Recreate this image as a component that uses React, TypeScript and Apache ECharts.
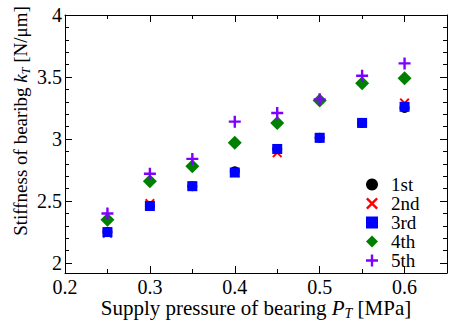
import React, { useEffect, useRef } from "react";
import * as echarts from "echarts";

const pressures = [0.25, 0.3, 0.35, 0.4, 0.45, 0.5, 0.55, 0.6];
const seriesNames = ["1st", "2nd", "3rd", "4th", "5th"];
const run1 = [2.25, 2.46, 2.62, 2.74, 2.92, 3.01, 3.13, 3.25];
const run2 = [2.24, 2.48, 2.62, 2.73, 2.89, 3.01, 3.13, 3.29];
const run3 = [2.25, 2.46, 2.62, 2.73, 2.92, 3.01, 3.13, 3.26];
const run4 = [2.35, 2.66, 2.78, 2.97, 3.13, 3.31, 3.45, 3.49];
const run5 = [2.40, 2.72, 2.84, 3.14, 3.21, 3.32, 3.51, 3.61];
const runs = [run1, run2, run3, run4, run5];

const colors = ["#000000", "#ff0000", "#0000ff", "#008000", "#8000ff"];
const CROSS = "path://M0,1.4L1.4,0L5,3.6L8.6,0L10,1.4L6.4,5L10,8.6L8.6,10L5,6.4L1.4,10L0,8.6L3.6,5Z";
const PLUS = "path://M4,0H6V4H10V6H6V10H4V6H0V4H4Z";
const symbols = ["circle", CROSS, "rect", "diamond", PLUS];
const sizes = [10, 10, 10, 14, 12];

const FONT = "Liberation Serif";

export default function App() {
  const ref = useRef<HTMLDivElement>(null);
  useEffect(() => {
    document.body.style.margin = "0";
    if (!ref.current) return;
    const chart = echarts.init(ref.current, null, { renderer: "svg" });
    const xCommon = { type: "value", min: 0.2, max: 0.65, splitLine: { show: false } };
    const yCommon = { type: "value", min: 1.92, max: 4, splitLine: { show: false } };
    const line = { show: true, lineStyle: { color: "#000", width: 1 } };
    const noLine = { show: false };
    const label = { fontFamily: FONT, fontSize: 20, color: "#000" };
    const mkRich = (fs: number) => ({
      i: { fontFamily: FONT, fontSize: fs, fontStyle: "italic", lineHeight: fs + 4 },
      s: { fontFamily: FONT, fontSize: Math.round(fs * 0.65), fontStyle: "italic", verticalAlign: "bottom", lineHeight: fs + 4, padding: [Math.round(fs * 0.45), 0, 0, 0] },
    });
    const option = {
      animation: false,
      backgroundColor: "#fff",
      textStyle: { fontFamily: FONT },
      grid: { left: 65, right: 2, top: 15, bottom: 58, containLabel: false, outerBoundsMode: "none" },
      xAxis: [
        { ...xCommon, position: "bottom", minInterval: 0.1, maxInterval: 0.1, axisLine: line,
          axisTick: { inside: true, length: 7, lineStyle: { color: "#000" } },
          axisLabel: { ...label, margin: 4, showMaxLabel: false } },
        { ...xCommon, position: "bottom", minInterval: 0.05, maxInterval: 0.05, splitNumber: 9, axisLine: noLine,
          axisTick: { inside: true, length: 4, lineStyle: { color: "#000" } }, axisLabel: { show: false } },
        { ...xCommon, position: "top", minInterval: 0.1, maxInterval: 0.1, axisLine: line,
          axisTick: { inside: true, length: 7, lineStyle: { color: "#000" } }, axisLabel: { show: false } },
        { ...xCommon, position: "top", minInterval: 0.05, maxInterval: 0.05, splitNumber: 9, axisLine: noLine,
          axisTick: { inside: true, length: 4, lineStyle: { color: "#000" } }, axisLabel: { show: false } },
      ],
      yAxis: [
        { ...yCommon, position: "left", minInterval: 0.5, maxInterval: 0.5, splitNumber: 4, axisLine: line,
          axisTick: { inside: true, length: 7, lineStyle: { color: "#000" } },
          axisLabel: { ...label, margin: 3, showMinLabel: false } },
        { ...yCommon, position: "left", minInterval: 0.1, maxInterval: 0.1, splitNumber: 20, axisLine: noLine,
          axisTick: { inside: true, length: 4, lineStyle: { color: "#000" } }, axisLabel: { show: false } },
        { ...yCommon, position: "right", minInterval: 0.5, maxInterval: 0.5, splitNumber: 4, axisLine: line,
          axisTick: { inside: true, length: 7, lineStyle: { color: "#000" } }, axisLabel: { show: false } },
        { ...yCommon, position: "right", minInterval: 0.1, maxInterval: 0.1, splitNumber: 20, axisLine: noLine,
          axisTick: { inside: true, length: 4, lineStyle: { color: "#000" } }, axisLabel: { show: false } },
      ],
      legend: {
        orient: "vertical",
        left: 366,
        top: 175,
        padding: 0,
        itemWidth: 12,
        itemHeight: 12,
        itemGap: 0,
        data: seriesNames,
        textStyle: { fontFamily: FONT, fontSize: 19, color: "#000", lineHeight: 18.75, padding: [0, 0, 0, 8] },
      },
      graphic: [
        {
          type: "text",
          x: 256,
          y: 308,
          style: {
            text: "Supply pressure of bearing {i|P}{s|T} [MPa]",
            fontFamily: FONT,
            fontSize: 21,
            fill: "#000",
            align: "center",
            verticalAlign: "middle",
            rich: mkRich(21),
          },
        },
        {
          type: "text",
          x: 20,
          y: 121,
          rotation: Math.PI / 2,
          style: {
            text: "Stiffness of bearibg {i|k}{s|T} [N/μm]",
            fontFamily: FONT,
            fontSize: 19,
            fill: "#000",
            align: "center",
            verticalAlign: "middle",
            rich: mkRich(19),
          },
        },
      ],
      series: runs.map((vals, i) => ({
        name: seriesNames[i],
        type: "scatter",
        xAxisIndex: 0,
        yAxisIndex: 0,
        symbol: symbols[i],
        symbolSize: sizes[i],
        itemStyle: { color: colors[i], opacity: 1 },
        emphasis: { disabled: true },
        data: pressures.map((p, j) => [p, vals[j]]),
      })),
    };
    chart.setOption(option as any);
    return () => chart.dispose();
  }, []);
  return <div ref={ref} style={{ width: 449, height: 331 }} />;
}
